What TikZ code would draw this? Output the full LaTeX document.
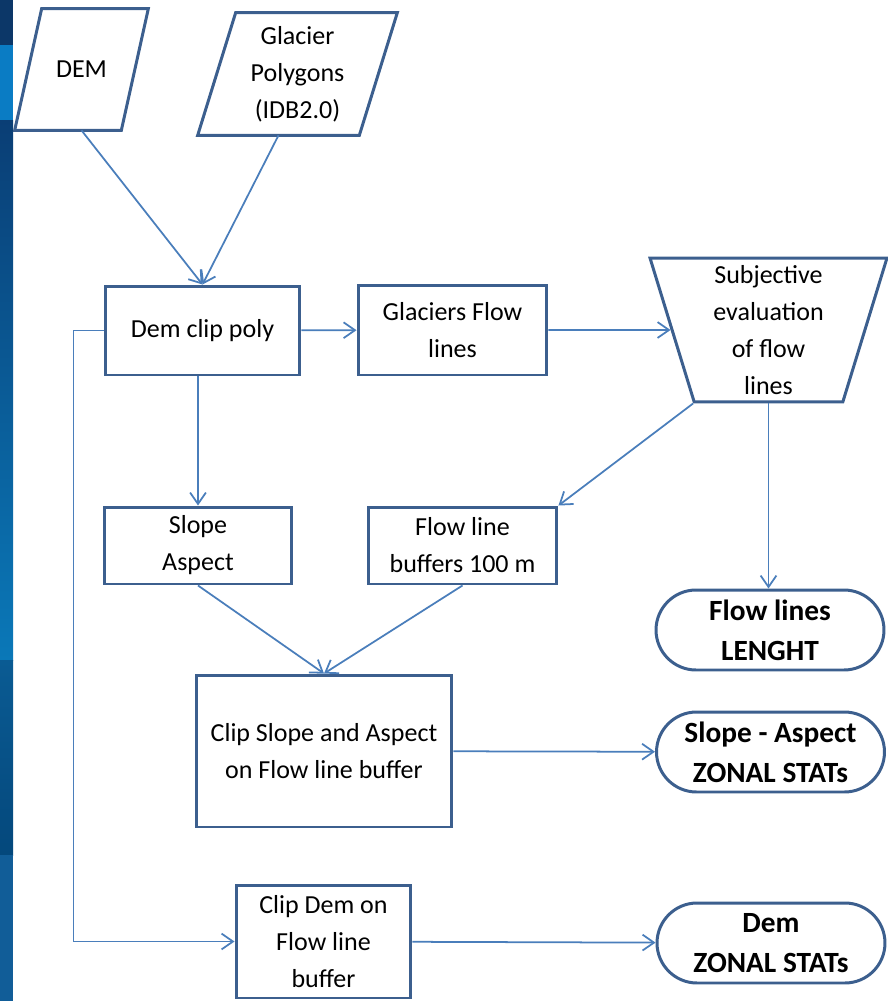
\documentclass[tikz,border=0pt]{standalone}
\usepackage{fontspec}
\setmainfont{Carlito}
\usepackage{tikz}
\usetikzlibrary{shapes.geometric, arrows.meta, positioning, calc}
\definecolor{BoxLine}{HTML}{3C5F8E}
\definecolor{FlowLine}{HTML}{4A7EBB}
\definecolor{StripNavy}{HTML}{0C3768}
\definecolor{StripDark}{HTML}{0A3E75}
\definecolor{StripBright}{HTML}{0A78B8}
\definecolor{StripBlock}{HTML}{0A7CC4}
\definecolor{StripDeep}{HTML}{04487C}
\definecolor{StripMid}{HTML}{0A5B93}
\definecolor{StripLow}{HTML}{115D98}
\newcommand{\bodyfont}{\fontsize{14.8}{21}\selectfont}
\newcommand{\termfont}{\fontsize{16.7}{22.7}\selectfont\bfseries}
% slanted outline round an input node: name, slant in px
\newcommand{\ioshape}[2]{%
    \draw[BoxLine, line width=1.7pt, line join=miter]
        (#1.south west) -- ($(#1.north west)+(#2,0)$) -- (#1.north east)
        -- ($(#1.south east)+(-#2,0)$) -- cycle;}
\tikzset{
  procbox/.style={rectangle, draw=BoxLine, line width=1.7pt, fill=white,
                  align=center, font=\bodyfont, inner sep=2pt},
  iobox/.style={rectangle, align=center, font=\bodyfont, inner sep=2pt},
  subjbox/.style={trapezium, trapezium stretches body, draw=BoxLine,
                  line width=1.7pt, fill=white, align=center, font=\bodyfont,
                  inner sep=2pt},
  termbox/.style={rectangle, rounded corners=0.8cm, draw=BoxLine,
                  line width=1.7pt, fill=white, align=center, font=\termfont,
                  minimum width=4.56cm, minimum height=1.6cm, inner sep=1pt},
  flow/.style={-{Straight Barb[length=6.5pt, width=9pt]}, line width=1pt,
               FlowLine},
}

\begin{document}
\begin{tikzpicture}[x=0.02cm, y=-0.02cm]
    \useasboundingbox (0,0) rectangle (888,1001);

    % Side strip
    \fill[StripNavy] (0,0) rectangle (13,45);
    \fill[StripBlock] (0,45) rectangle (13,120);
    \shade[top color=StripDark, bottom color=StripBright] (0,120) rectangle (13,660);
    \shade[top color=StripMid, bottom color=StripDeep] (0,660) rectangle (13,855);
    \fill[StripLow] (0,855) rectangle (13,1001);

    % Inputs
    \node[iobox, minimum width=2.66cm, minimum height=2.42cm] (dem)
        at (81.5,69.5) {DEM};
    \ioshape{dem}{27}
    \node[iobox, minimum width=3.98cm, minimum height=2.44cm] (glac)
        at (297.5,74) {Glacier\\Polygons\\(IDB2.0)};
    \ioshape{glac}{38}

    % Processing steps
    \node[procbox, minimum width=3.9cm, minimum height=1.78cm] (dclip)
        at (202.5,330.5) {Dem clip poly};
    \node[procbox, minimum width=3.78cm, minimum height=1.8cm] (gflow)
        at (452.5,330) {Glaciers Flow\\lines};
    \node[subjbox, shape border rotate=180, trapezium angle=72,
          minimum width=4.74cm, minimum height=2.88cm] (subj) at (768.5,330)
          {Subjective\\evaluation\\of flow\\lines};
    \node[procbox, minimum width=3.76cm, minimum height=1.54cm] (slope)
        at (198,545.5) {Slope\\Aspect};
    \node[procbox, minimum width=3.78cm, minimum height=1.54cm] (buff)
        at (462.5,545.5) {Flow line\\buffers 100 m};
    \node[procbox, minimum width=5.12cm, minimum height=3.04cm] (cslope)
        at (324,751) {Clip Slope and Aspect\\on Flow line buffer};
    \node[procbox, minimum width=3.5cm, minimum height=2.26cm] (cdem)
        at (323.5,941.5) {Clip Dem on\\Flow line\\buffer};

    % Results
    \foreach \n/\x/\y/\txt in {flen/770/630/{Flow lines\\LENGHT},
                               sazs/770.5/752/{Slope - Aspect\\ZONAL STATs},
                               dzs/771/943/{Dem\\ZONAL STATs}} {
        \node[termbox] (\n) at (\x,\y) {\txt};
    }

    % Connectors
    \draw[flow] (dem.south) -- (dclip.north);
    \draw[flow] ($(glac.south)+(-19,0)$) -- (dclip.north);
    \draw[flow] (dclip) -- (gflow);
    \draw[flow] (gflow) -- (subj);
    \draw[flow] (subj.top right corner) -- (buff.north east);
    \draw[flow] (subj.south) -- (subj.south |- flen.north);
    \draw[flow] (slope.north |- dclip.south) -- (slope.north);
    \draw[flow] (slope.south) -- (cslope.north);
    \draw[flow] (buff.south) -- (cslope.north);
    \draw[flow] (cslope) -- (sazs);
    \draw[flow] (dclip.west) -- ++(-30,0) |- (cdem.west);
    \draw[flow] (cdem) -- (dzs);
\end{tikzpicture}
\end{document}
